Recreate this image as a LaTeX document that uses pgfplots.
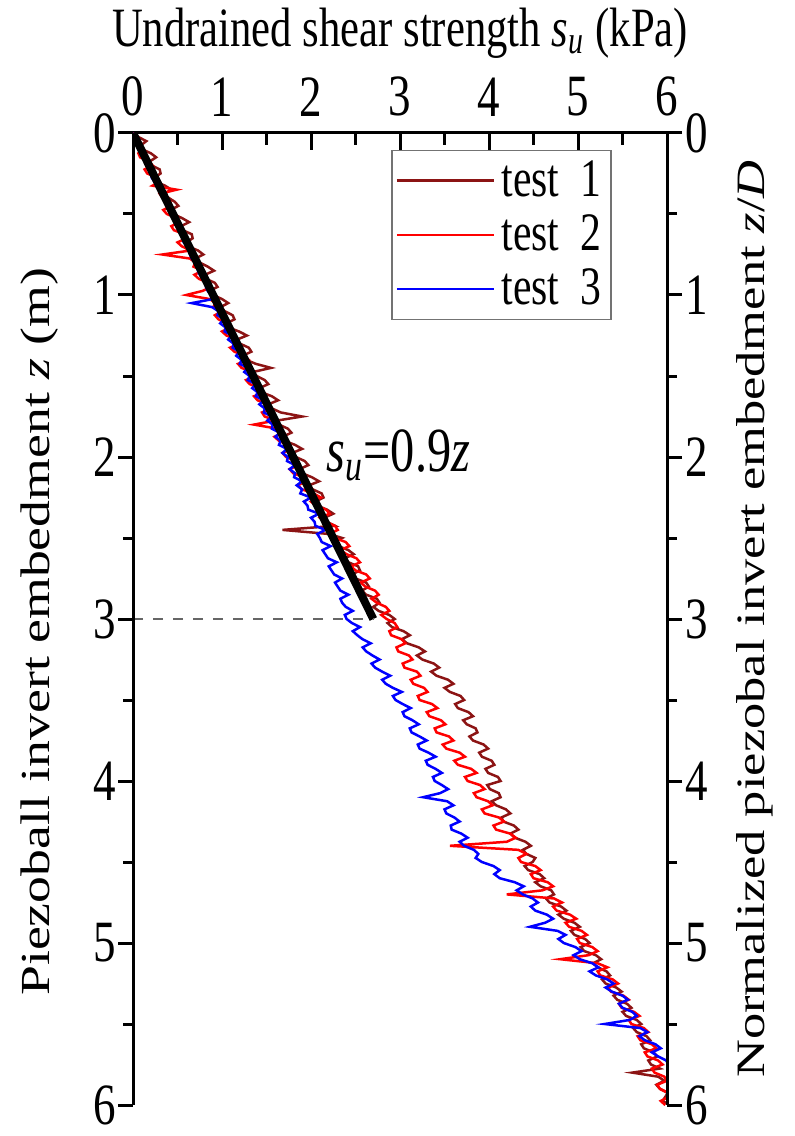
\documentclass[border=0pt]{standalone}
\usepackage{fontspec}
\setmainfont{Liberation Serif}
\usepackage{pgfplots}
\pgfplotsset{compat=1.18}
\usetikzlibrary{calc}
\definecolor{tone}{RGB}{140,20,20}
\definecolor{ttwo}{RGB}{255,0,0}
\definecolor{tthree}{RGB}{0,0,255}
% the reference is stretched vertically, so text is stretched to match
\newcommand{\vs}[1]{\scalebox{1}[1.3]{#1}}
\newcommand{\hs}[1]{\scalebox{1.3}[1]{#1}}
\pgfplotsset{
  common/.style={scale only axis, width=160.2pt, height=291.6pt,
    xmin=0, xmax=6, ymin=0, ymax=6, y dir=reverse,
    axis line style={line width=0.9pt}, tick style={line width=0.9pt, black},
    /pgf/number format/assume math mode=true},
}
\begin{document}
\begin{tikzpicture}
% data + top x axis
\begin{axis}[common, name=ax,
    axis x line*=top, hide y axis,
    xtick={0,...,6}, minor x tick num=1, tick align=inside,
    major tick length=5pt, minor tick length=3.5pt,
    xticklabel={\vs{\pgfmathprintnumber{\tick}}},
    xticklabel style={font=\fontsize{13.5}{13.5}\selectfont, yshift=1.5pt},
    xlabel={\vs{Undrained shear strength \textit{s}\textsubscript{\textit{u}} (kPa)}},
    xlabel style={font=\fontsize{12.8}{13}\selectfont, at={(axis description cs:0.5,1.103)}, anchor=center},
    legend style={at={(0.897,0.983)}, anchor=north east, draw=black!55, line width=0.5pt,
      font=\fontsize{12.5}{13}\selectfont, row sep=0pt, inner sep=1pt,
      cells={anchor=west}},
    legend image code/.code={\draw[#1,line width=0.8pt] (0pt,0pt) -- (29pt,0pt);},
]
\addplot[tone, line width=0.75pt] table[x=su, y=z] {
z su
0.00 0.02
0.025 0.06
0.05 0.15
0.075 0.09
0.10 0.10
0.125 0.20
0.15 0.26
0.175 0.19
0.20 0.21
0.225 0.30
0.25 0.31
0.275 0.24
0.30 0.25
0.325 0.36
0.35 0.43
0.375 0.35
0.40 0.40
0.425 0.47
0.45 0.51
0.475 0.42
0.50 0.45
0.525 0.55
0.55 0.63
0.575 0.54
0.60 0.56
0.625 0.66
0.65 0.67
0.675 0.60
0.70 0.62
0.725 0.73
0.75 0.79
0.775 0.70
0.80 0.75
0.825 0.84
0.85 0.91
0.875 0.81
0.90 0.82
0.925 0.92
0.95 0.95
0.975 0.86
1.00 0.90
1.025 1.00
1.05 1.07
1.075 0.98
1.10 1.03
1.125 1.12
1.15 1.14
1.175 1.05
1.20 1.07
1.225 1.19
1.25 1.28
1.275 1.17
1.30 1.20
1.325 1.30
1.35 1.33
1.375 1.23
1.40 1.27
1.425 1.38
1.45 1.55
1.475 1.35
1.50 1.39
1.525 1.48
1.55 1.52
1.575 1.42
1.60 1.44
1.625 1.56
1.65 1.63
1.675 1.52
1.70 1.56
1.725 1.66
1.75 1.90
1.775 1.62
1.80 1.64
1.825 1.74
1.85 1.78
1.875 1.68
1.90 1.70
1.925 1.82
1.95 1.90
1.975 1.79
2.00 1.83
2.025 1.93
2.05 1.97
2.075 1.87
2.10 1.90
2.125 2.01
2.15 2.09
2.175 1.98
2.20 2.02
2.225 2.12
2.25 2.14
2.275 2.05
2.30 2.07
2.325 2.18
2.35 2.25
2.375 2.15
2.40 2.18
2.425 2.27
2.45 1.68
2.475 2.20
2.50 2.35
2.525 2.26
2.55 2.31
2.575 2.42
2.60 2.48
2.625 2.38
2.65 2.42
2.675 2.53
2.70 2.55
2.725 2.46
2.75 2.50
2.775 2.62
2.80 2.65
2.825 2.57
2.85 2.62
2.875 2.74
2.90 2.77
2.925 2.70
2.95 2.76
2.975 2.88
3.00 2.94
3.025 2.86
3.05 2.91
3.075 3.04
3.10 3.11
3.125 3.02
3.15 3.08
3.175 3.21
3.20 3.28
3.225 3.19
3.25 3.25
3.275 3.38
3.30 3.44
3.325 3.35
3.35 3.41
3.375 3.54
3.40 3.60
3.425 3.50
3.45 3.56
3.475 3.68
3.50 3.72
3.525 3.62
3.55 3.65
3.575 3.77
3.60 3.82
3.625 3.71
3.65 3.75
3.675 3.85
3.70 3.87
3.725 3.78
3.75 3.82
3.775 3.94
3.80 3.99
3.825 3.89
3.85 3.92
3.875 4.03
3.90 4.06
3.925 3.96
3.95 3.99
3.975 4.10
4.00 4.13
4.025 3.98
4.05 4.01
4.075 4.11
4.10 4.13
4.125 4.03
4.15 4.08
4.175 4.19
4.20 4.24
4.225 4.14
4.25 4.16
4.275 4.28
4.30 4.33
4.325 4.24
4.35 4.29
4.375 4.41
4.40 4.47
4.425 4.38
4.45 4.42
4.475 4.52
4.50 4.49
4.525 4.40
4.55 4.44
4.575 4.57
4.60 4.62
4.625 4.52
4.65 4.58
4.675 4.70
4.70 4.73
4.725 4.64
4.75 4.68
4.775 4.81
4.80 4.87
4.825 4.78
4.85 4.84
4.875 4.96
4.90 5.02
4.925 4.92
4.95 4.96
4.975 5.08
5.00 5.13
5.025 5.03
5.05 5.07
5.075 5.20
5.10 5.26
5.125 5.17
5.15 5.22
5.175 5.32
5.20 5.36
5.225 5.27
5.25 5.31
5.275 5.43
5.30 5.49
5.325 5.40
5.35 5.44
5.375 5.55
5.40 5.60
5.425 5.50
5.45 5.54
5.475 5.66
5.50 5.71
5.525 5.62
5.55 5.66
5.575 5.77
5.60 5.81
5.625 5.71
5.65 5.74
5.675 5.85
5.70 5.89
5.725 5.79
5.75 5.82
5.775 5.92
5.80 5.61
5.825 5.90
5.85 5.97
5.875 5.88
5.90 5.92
5.925 6.01
5.95 5.98
5.975 5.95
6.00 6.03
};
\addplot[ttwo, line width=0.75pt] table[x=su, y=z] {
z su
0.00 0.00
0.025 0.05
0.05 0.03
0.075 0.09
0.10 0.12
0.125 0.06
0.15 0.08
0.175 0.18
0.20 0.22
0.225 0.13
0.25 0.16
0.275 0.27
0.30 0.30
0.325 0.22
0.35 0.49
0.375 0.30
0.40 0.33
0.425 0.42
0.45 0.43
0.475 0.34
0.50 0.38
0.525 0.49
0.55 0.52
0.575 0.43
0.60 0.46
0.625 0.58
0.65 0.60
0.675 0.50
0.70 0.55
0.725 0.65
0.75 0.33
0.775 0.64
0.80 0.70
0.825 0.68
0.85 0.78
0.875 0.69
0.90 0.74
0.925 0.85
0.95 0.88
0.975 0.78
1.00 0.60
1.025 0.86
1.05 0.93
1.075 0.90
1.10 1.00
1.125 0.92
1.15 0.96
1.175 1.06
1.20 1.10
1.225 1.00
1.25 1.05
1.275 1.16
1.30 1.20
1.325 1.09
1.35 1.14
1.375 1.25
1.40 1.30
1.425 1.18
1.45 1.22
1.475 1.34
1.50 1.37
1.525 1.27
1.55 1.31
1.575 1.43
1.60 1.47
1.625 1.36
1.65 1.40
1.675 1.52
1.70 1.56
1.725 1.45
1.75 1.48
1.775 1.60
1.80 1.36
1.825 1.62
1.85 1.69
1.875 1.59
1.90 1.64
1.925 1.74
1.95 1.78
1.975 1.68
2.00 1.72
2.025 1.83
2.05 1.86
2.075 1.76
2.10 1.80
2.125 1.92
2.15 1.95
2.175 1.85
2.20 1.90
2.225 2.03
2.25 2.11
2.275 2.00
2.30 2.05
2.325 2.17
2.35 2.21
2.375 2.10
2.40 2.16
2.425 2.27
2.45 2.30
2.475 2.21
2.50 2.27
2.525 2.39
2.55 2.43
2.575 2.33
2.60 2.40
2.625 2.51
2.65 2.55
2.675 2.45
2.70 2.50
2.725 2.62
2.75 2.66
2.775 2.56
2.80 2.61
2.825 2.72
2.85 2.76
2.875 2.68
2.90 2.74
2.925 2.84
2.95 2.88
2.975 2.79
3.00 2.85
3.025 2.94
3.05 2.97
3.075 2.88
3.10 2.90
3.125 3.02
3.15 3.06
3.175 2.96
3.20 2.98
3.225 3.10
3.25 3.14
3.275 3.03
3.30 3.05
3.325 3.19
3.35 3.23
3.375 3.12
3.40 3.15
3.425 3.27
3.45 3.31
3.475 3.20
3.50 3.22
3.525 3.36
3.55 3.42
3.575 3.30
3.60 3.33
3.625 3.46
3.65 3.51
3.675 3.39
3.70 3.41
3.725 3.55
3.75 3.60
3.775 3.48
3.80 3.52
3.825 3.67
3.85 3.73
3.875 3.61
3.90 3.65
3.925 3.80
3.95 3.86
3.975 3.73
4.00 3.76
4.025 3.90
4.05 3.95
4.075 3.83
4.10 3.86
4.125 3.99
4.15 4.04
4.175 3.92
4.20 3.95
4.225 4.11
4.25 4.17
4.275 4.05
4.30 4.08
4.325 4.24
4.35 4.30
4.375 4.20
4.40 3.56
4.425 4.33
4.45 4.42
4.475 4.33
4.50 4.36
4.525 4.52
4.55 4.58
4.575 4.47
4.60 4.50
4.625 4.66
4.65 4.72
4.675 4.60
4.70 4.20
4.725 4.73
4.75 4.82
4.775 4.72
4.80 4.76
4.825 4.91
4.85 4.98
4.875 4.86
4.90 4.90
4.925 5.04
4.95 5.10
4.975 4.99
5.00 5.02
5.025 5.16
5.05 5.22
5.075 5.12
5.10 4.80
5.125 5.22
5.15 5.33
5.175 5.22
5.20 5.25
5.225 5.39
5.25 5.45
5.275 5.34
5.30 5.37
5.325 5.51
5.35 5.57
5.375 5.46
5.40 5.49
5.425 5.63
5.45 5.69
5.475 5.57
5.50 5.60
5.525 5.74
5.55 5.79
5.575 5.67
5.60 5.70
5.625 5.83
5.65 5.88
5.675 5.75
5.70 5.78
5.725 5.90
5.75 5.95
5.775 5.83
5.80 5.86
5.825 5.97
5.85 6.00
5.875 5.89
5.90 5.92
5.925 6.01
5.95 6.02
5.975 5.93
6.00 5.98
};
\addplot[tthree, line width=0.75pt] table[x=su, y=z] {
z su
0.00 0.00
0.025 0.03
0.05 0.02
0.075 0.07
0.10 0.06
0.125 0.11
0.15 0.11
0.175 0.16
0.20 0.15
0.225 0.20
0.25 0.21
0.275 0.21
0.30 0.24
0.325 0.29
0.35 0.29
0.375 0.31
0.40 0.34
0.425 0.38
0.45 0.38
0.475 0.40
0.50 0.43
0.525 0.47
0.55 0.47
0.575 0.49
0.60 0.52
0.625 0.56
0.65 0.56
0.675 0.57
0.70 0.61
0.725 0.65
0.75 0.64
0.775 0.66
0.80 0.70
0.825 0.74
0.85 0.73
0.875 0.75
0.90 0.79
0.925 0.83
0.95 0.82
0.975 0.84
1.00 0.88
1.025 0.90
1.05 0.66
1.075 0.89
1.10 0.96
1.125 0.95
1.15 1.02
1.175 0.98
1.20 1.04
1.225 1.03
1.25 1.11
1.275 1.07
1.30 1.13
1.325 1.12
1.35 1.20
1.375 1.16
1.40 1.22
1.425 1.20
1.45 1.29
1.475 1.25
1.50 1.31
1.525 1.29
1.55 1.38
1.575 1.34
1.60 1.40
1.625 1.38
1.65 1.47
1.675 1.42
1.70 1.48
1.725 1.47
1.75 1.56
1.775 1.51
1.80 1.57
1.825 1.56
1.85 1.65
1.875 1.60
1.90 1.66
1.925 1.64
1.95 1.73
1.975 1.68
2.00 1.74
2.025 1.73
2.05 1.82
2.075 1.76
2.10 1.82
2.125 1.81
2.15 1.90
2.175 1.84
2.20 1.90
2.225 1.88
2.25 2.00
2.275 1.92
2.30 1.96
2.325 1.97
2.35 2.09
2.375 2.00
2.40 2.04
2.425 2.05
2.45 2.16
2.475 2.07
2.50 2.10
2.525 2.12
2.55 2.22
2.575 2.13
2.60 2.16
2.625 2.19
2.65 2.29
2.675 2.20
2.70 2.23
2.725 2.26
2.75 2.35
2.775 2.27
2.80 2.30
2.825 2.33
2.85 2.42
2.875 2.33
2.90 2.35
2.925 2.39
2.95 2.47
2.975 2.38
3.00 2.40
3.025 2.46
3.05 2.55
3.075 2.47
3.10 2.52
3.125 2.58
3.15 2.67
3.175 2.58
3.20 2.62
3.225 2.69
3.25 2.77
3.275 2.68
3.30 2.72
3.325 2.80
3.35 2.89
3.375 2.80
3.40 2.84
3.425 2.92
3.45 3.02
3.475 2.92
3.50 2.95
3.525 3.03
3.55 3.12
3.575 3.03
3.60 3.05
3.625 3.14
3.65 3.21
3.675 3.11
3.70 3.13
3.725 3.22
3.75 3.30
3.775 3.20
3.80 3.22
3.825 3.32
3.85 3.40
3.875 3.29
3.90 3.31
3.925 3.40
3.95 3.47
3.975 3.37
4.00 3.39
4.025 3.47
4.05 3.54
4.075 3.45
4.10 3.26
4.125 3.53
4.15 3.60
4.175 3.50
4.20 3.52
4.225 3.61
4.25 3.67
4.275 3.57
4.30 3.58
4.325 3.69
4.35 3.76
4.375 3.67
4.40 3.72
4.425 3.83
4.45 3.88
4.475 3.85
4.50 3.92
4.525 4.05
4.55 4.12
4.575 4.06
4.60 4.12
4.625 4.29
4.65 4.39
4.675 4.31
4.70 4.38
4.725 4.49
4.75 4.55
4.775 4.47
4.80 4.52
4.825 4.65
4.85 4.72
4.875 4.63
4.90 4.46
4.925 4.77
4.95 4.86
4.975 4.78
5.00 4.84
5.025 4.97
5.05 5.04
5.075 4.95
5.10 5.02
5.125 5.16
5.15 5.23
5.175 5.13
5.20 5.20
5.225 5.33
5.25 5.40
5.275 5.31
5.30 5.38
5.325 5.50
5.35 5.56
5.375 5.46
5.40 5.50
5.425 5.61
5.45 5.66
5.475 5.58
5.50 5.30
5.525 5.70
5.55 5.78
5.575 5.69
5.60 5.75
5.625 5.87
5.65 5.93
5.675 5.83
5.70 5.90
5.725 5.99
5.75 6.02
};
% fitted line su = 0.9z and the z = 3 m marker
\addplot[black, line width=2.4pt, forget plot] coordinates {(0,0) (2.7,3)};
\addplot[black!60, dashed, line width=0.5pt, forget plot] coordinates {(0,3) (2.7,3)};
\node[font=\fontsize{14.5}{15}\selectfont] at (axis cs:2.98,1.99)
  {\vs{\textit{s}\textsubscript{\textit{u}}=0.9\textit{z}}};
\legend{\vs{test\ \ 1},\vs{test\ \ 2},\vs{test\ \ 3}}
\end{axis}
% left axis
\begin{axis}[common, hide x axis, axis y line*=left,
    ytick={0,...,6}, minor y tick num=1, tick align=outside,
    major tick length=4.5pt, minor tick length=3pt,
    yticklabel={\vs{\pgfmathprintnumber{\tick}}},
    yticklabel style={font=\fontsize{13.5}{13.5}\selectfont, xshift=3pt},
    ylabel={\hs{Piezoball invert embedment \textit{z} (m)}},
    ylabel style={font=\fontsize{12.4}{13}\selectfont, at={(axis description cs:-0.175,0.487)}, anchor=center},
]
\end{axis}
% right axis
\begin{axis}[common, hide x axis, axis y line*=right,
    ytick={0,...,6}, minor y tick num=1, tick align=outside,
    major tick length=4.5pt, minor tick length=3pt,
    yticklabel={\vs{\pgfmathprintnumber{\tick}}},
    yticklabel style={font=\fontsize{13.5}{13.5}\selectfont, xshift=-2.5pt},
    ylabel={\hs{Normalized piezobal invert embedment \textit{z}/\textit{D}}},
    ylabel style={font=\fontsize{12.1}{13}\selectfont, at={(axis description cs:1.165,0.5)}, anchor=center},
]
\end{axis}
\pgfresetboundingbox
\path[use as bounding box] ($(ax.south west)+(-39.9pt,-9.3pt)$) rectangle ($(ax.north east)+(38.1pt,39.9pt)$);
\end{tikzpicture}
\end{document}
